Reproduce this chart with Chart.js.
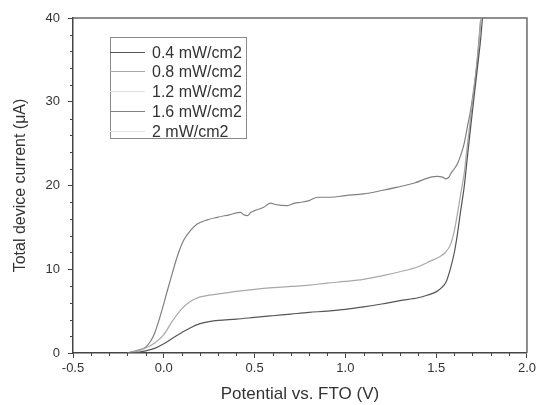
<!DOCTYPE html>
<html>
<head>
<meta charset="utf-8">
<script src="https://cdn.jsdelivr.net/npm/chart.js@4/dist/chart.umd.min.js"></script>
<style>
html,body{margin:0;padding:0;background:#fff;}
#wrap{width:539px;height:405px;position:relative;}
</style>
</head>
<body>
<div id="wrap"><canvas id="c" width="539" height="405"></canvas></div>
<script>
// ---- data ----
const seriesLabels = ['0.4 mW/cm2', '0.8 mW/cm2', '1.2 mW/cm2', '1.6 mW/cm2', '2 mW/cm2'];

const v04 = [-0.20,-0.15,-0.10,-0.05,0.00,0.05,0.10,0.15,0.20,0.25,0.30,0.40,0.50,0.60,0.70,0.80,0.90,1.00,1.10,1.20,1.30,1.40,1.45,1.50,1.53,1.555,1.58,1.60,1.617,1.635,1.654,1.67,1.69,1.71,1.728,1.745,1.755];
const i04 = [0,0.05,0.25,0.55,1.1,1.8,2.45,3.05,3.5,3.75,3.9,4.05,4.25,4.45,4.65,4.85,5.0,5.2,5.5,5.85,6.25,6.6,6.9,7.3,7.8,8.5,10.2,12.0,14.2,17.0,19.8,23.0,27.0,30.8,34.2,37.5,40.0];

const v08 = [-0.20,-0.15,-0.10,-0.05,0.00,0.05,0.10,0.15,0.20,0.25,0.30,0.40,0.50,0.60,0.70,0.80,0.90,1.00,1.10,1.20,1.30,1.40,1.47,1.52,1.55,1.58,1.60,1.617,1.635,1.654,1.67,1.69,1.71,1.728,1.745];
const i08 = [0,0.2,0.6,1.2,2.2,3.9,5.3,6.2,6.7,6.9,7.05,7.35,7.6,7.8,7.95,8.1,8.35,8.55,8.8,9.2,9.7,10.3,11.0,11.5,12.0,13.0,14.6,16.6,19.0,21.4,24.5,28.2,31.8,35.0,39.8];

const v12 = [];
const i12 = [];

const v16 = [-0.20,-0.15,-0.10,-0.073,-0.05,-0.028,0.00,0.019,0.04,0.064,0.085,0.11,0.15,0.184,0.24,0.294,0.36,0.423,0.44,0.46,0.48,0.50,0.55,0.588,0.62,0.68,0.72,0.754,0.80,0.846,0.92,1.00,1.10,1.20,1.287,1.38,1.47,1.507,1.535,1.553,1.57,1.58,1.60,1.617,1.635,1.654,1.67,1.69,1.705,1.718,1.73,1.745];
const i16 = [0,0.3,0.7,1.4,2.4,3.8,5.9,7.4,9.0,10.8,12.2,13.5,14.7,15.4,15.9,16.2,16.5,16.8,16.5,16.4,16.8,17.0,17.4,17.9,17.7,17.6,17.9,18.0,18.2,18.6,18.6,18.8,19.0,19.4,19.8,20.3,21.0,21.1,21.0,20.8,21.0,21.4,22.0,22.6,23.6,25.0,26.8,29.0,31.2,33.4,36.0,39.8];

const v20 = [];
const i20 = [];

const xTicks = [-0.5, 0.0, 0.5, 1.0, 1.5, 2.0];
const yTicks = [0, 10, 20, 30, 40];

// ---- build ----
const pts = (xs, ys) => xs.map((x, k) => ({x: x, y: ys[k]}));
const colors = ['#555555', '#a8a8a8', '#e2e2e2', '#808080', '#e6e6e6'];
const seriesX = [v04, v08, v12, v16, v20];
const seriesY = [i04, i08, i12, i16, i20];

const datasets = seriesLabels.map((lab, k) => ({
  label: lab,
  data: pts(seriesX[k], seriesY[k]),
  borderColor: colors[k],
  borderWidth: 1.2,
  pointRadius: 0,
  showLine: true,
  fill: false,
  cubicInterpolationMode: 'monotone'
}));

const FONT = '"Liberation Sans", Arial, sans-serif';

const framePlugin = {
  id: 'frame',
  afterDraw(chart) {
    const ctx = chart.ctx;
    const a = chart.chartArea;
    const xs = chart.scales.x, ys = chart.scales.y;
    ctx.save();
    // top and right frame
    ctx.strokeStyle = '#6a6a6a';
    ctx.lineWidth = 1.5;
    ctx.beginPath();
    ctx.moveTo(a.left, a.top);
    ctx.lineTo(a.right, a.top);
    ctx.lineTo(a.right, a.bottom);
    ctx.stroke();
    // minor ticks
    ctx.strokeStyle = '#444';
    ctx.lineWidth = 1;
    ctx.beginPath();
    for (let k = -5; k <= 20; k++) {
      if (k % 5 === 0) continue;
      const px = Math.round(xs.getPixelForValue(k / 10)) + 0.5;
      ctx.moveTo(px, a.bottom);
      ctx.lineTo(px, a.bottom + 3);
    }
    for (let k = 0; k <= 40; k += 2) {
      if (k % 10 === 0) continue;
      const py = Math.round(ys.getPixelForValue(k)) + 0.5;
      ctx.moveTo(a.left, py);
      ctx.lineTo(a.left - 3, py);
    }
    ctx.stroke();
    // legend box
    const bx = 110, by = 37, bw = 136, bh = 101, rowH = 19.9, firstY = 51.5;
    ctx.strokeStyle = '#8a8a8a';
    ctx.lineWidth = 1;
    ctx.strokeRect(bx + 0.5, by + 0.5, bw, bh);
    ctx.font = '16px ' + FONT;
    ctx.textBaseline = 'middle';
    ctx.textAlign = 'left';
    chart.data.datasets.forEach((ds, k) => {
      const y = Math.round(firstY + k * rowH) + 0.5;
      ctx.strokeStyle = ds.borderColor;
      ctx.lineWidth = 1.2;
      ctx.beginPath();
      ctx.moveTo(bx, y);
      ctx.lineTo(bx + 35, y);
      ctx.stroke();
      ctx.fillStyle = '#333';
      ctx.fillText(ds.label, bx + 42, y + 1);
    });
    ctx.restore();
  }
};

new Chart(document.getElementById('c'), {
  type: 'scatter',
  data: { datasets: datasets },
  plugins: [framePlugin],
  options: {
    responsive: false,
    animation: false,
    layout: { padding: { top: 18, right: 12, left: 0, bottom: 0 } },
    plugins: { legend: { display: false }, tooltip: { enabled: false } },
    scales: {
      x: {
        type: 'linear',
        min: -0.5, max: 2.0,
        afterBuildTicks(s) { s.ticks = xTicks.map(v => ({value: v})); },
        afterFit(s) { s.height = 52; },
        grid: { drawOnChartArea: false, tickLength: 5, tickColor: '#444', tickWidth: 1 },
        border: { color: '#444', width: 1.5 },
        ticks: {
          color: '#333', font: { family: FONT, size: 13 }, padding: 3,
          maxRotation: 0,
          callback: v => v.toFixed(1)
        },
        title: { display: true, text: 'Potential vs. FTO (V)', color: '#333', font: { family: FONT, size: 17 }, padding: { top: 2, bottom: 0 } }
      },
      y: {
        type: 'linear',
        min: 0, max: 40,
        afterBuildTicks(s) { s.ticks = yTicks.map(v => ({value: v})); },
        afterFit(s) { s.width = 73; },
        grid: { drawOnChartArea: false, tickLength: 5, tickColor: '#444', tickWidth: 1 },
        border: { color: '#444', width: 1.5 },
        ticks: { color: '#333', font: { family: FONT, size: 13 }, padding: 8 },
        title: { display: true, text: 'Total device current (\u03bcA)', color: '#333', font: { family: FONT, size: 16 }, padding: { top: 11, bottom: 0 } }
      }
    }
  }
});
</script>
</body>
</html>
